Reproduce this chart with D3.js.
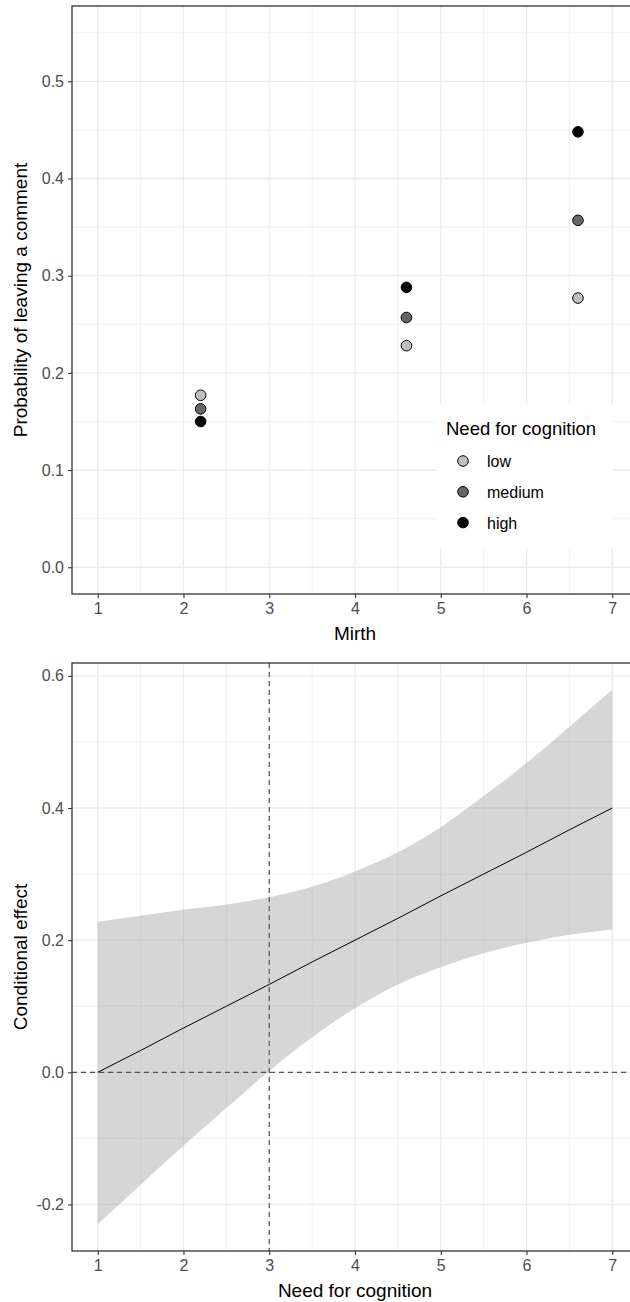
<!DOCTYPE html>
<html lang="en">
<head>
<meta charset="UTF-8">
<title>Mirth x Need for cognition</title>
<style>
  body { margin: 0; background: #fff; }
  svg { display: block; font-family: "Liberation Sans", Arial, sans-serif; }
  .tick text { fill: #4d4d4d; font-size: 16px; }
  .tick line { stroke: #333; stroke-width: 1.1; }
  .grid-major { stroke: #ebebeb; stroke-width: 1.3; }
  .grid-minor { stroke: #ebebeb; stroke-width: 0.7; }
  .axis-title { font-size: 19px; fill: #000; }
</style>
</head>
<body>
<div id="chart"></div>
<script src="https://d3js.org/d3.v7.min.js"></script>
<script>
  // top panel: predicted probabilities
  const mirthLevels = [2.2, 4.6, 6.6];
  const nfcGroups = ["low", "medium", "high"];
  const probLow = [0.177, 0.228, 0.277];
  const probMedium = [0.163, 0.257, 0.357];
  const probHigh = [0.150, 0.288, 0.448];
  const probLimits = [0, 0.55];

  // bottom panel: conditional effect of mirth over need for cognition
  const nfcValues = [1, 1.5, 2, 2.5, 3, 3.5, 4, 4.5, 5, 5.5, 6, 6.5, 7];
  const effect = [0, 0.033, 0.067, 0.1, 0.133, 0.167, 0.2, 0.233, 0.267, 0.3, 0.333, 0.367, 0.4];
  const effectLower = [-0.230, -0.170, -0.111, -0.054, 0.002, 0.053, 0.097, 0.133, 0.159, 0.180, 0.196, 0.208, 0.216];
  const effectUpper = [0.228, 0.237, 0.246, 0.254, 0.265, 0.281, 0.304, 0.333, 0.371, 0.418, 0.468, 0.523, 0.579];
  const nfcMarker = 3;

  const xTicks = [1, 2, 3, 4, 5, 6, 7];
  const xLimits = [1, 7];

  const width = 630, height = 1302;
  const groupFill = { low: "#bfbfbf", medium: "#666666", high: "#000000" };

  const svg = d3.select("#chart").append("svg")
    .attr("width", width).attr("height", height);

  function expand(lim, m = 0.05) {
    const r = lim[1] - lim[0];
    return [lim[0] - r * m, lim[1] + r * m];
  }

  // plain hyphen for negatives, like R
  const fmt1 = d => d3.format(".1f")(d).replace("\u2212", "-");

  // background grid + axes
  function drawFrame(g, x, y, yMajor, yMinor, xMinor) {
    const [x0, x1] = x.range();
    const [y1, y0] = y.range();
    g.append("rect").attr("x", x0).attr("y", y0)
      .attr("width", x1 - x0).attr("height", y1 - y0).attr("fill", "#fff");

    g.selectAll(".gy-min").data(yMinor).enter().append("line")
      .attr("class", "grid-minor")
      .attr("x1", x0).attr("x2", x1).attr("y1", d => y(d)).attr("y2", d => y(d));
    g.selectAll(".gx-min").data(xMinor).enter().append("line")
      .attr("class", "grid-minor")
      .attr("y1", y0).attr("y2", y1).attr("x1", d => x(d)).attr("x2", d => x(d));
    g.selectAll(".gy-maj").data(yMajor).enter().append("line")
      .attr("class", "grid-major")
      .attr("x1", x0).attr("x2", x1).attr("y1", d => y(d)).attr("y2", d => y(d));
    g.selectAll(".gx-maj").data(xTicks).enter().append("line")
      .attr("class", "grid-major")
      .attr("y1", y0).attr("y2", y1).attr("x1", d => x(d)).attr("x2", d => x(d));

    const ax = g.append("g").attr("transform", `translate(0,${y1})`)
      .call(d3.axisBottom(x).tickValues(xTicks).tickSize(4).tickPadding(5).tickFormat(d3.format("d")));
    ax.select(".domain").remove();
    const ay = g.append("g").attr("transform", `translate(${x0},0)`)
      .call(d3.axisLeft(y).tickValues(yMajor).tickSize(4).tickPadding(4).tickFormat(fmt1));
    ay.select(".domain").remove();
  }

  function drawBorder(g, x, y) {
    const [x0, x1] = x.range();
    const [y1, y0] = y.range();
    g.append("rect").attr("x", x0).attr("y", y0)
      .attr("width", x1 - x0).attr("height", y1 - y0)
      .attr("fill", "none").attr("stroke", "#333").attr("stroke-width", 1.3);
  }

  // ---------- top plot ----------
  const topG = svg.append("g");
  const x1s = d3.scaleLinear().domain(expand(xLimits)).range([72, 638]);
  const y1s = d3.scaleLinear().domain(expand(probLimits)).range([594, 6]);
  drawFrame(topG, x1s, y1s,
    [0, 0.1, 0.2, 0.3, 0.4, 0.5],
    [0.05, 0.15, 0.25, 0.35, 0.45, 0.55],
    [1.5, 2.5, 3.5, 4.5, 5.5, 6.5]);

  const points = [];
  const series = { low: probLow, medium: probMedium, high: probHigh };
  nfcGroups.forEach(gName => {
    mirthLevels.forEach((m, i) => points.push({ group: gName, mirth: m, p: series[gName][i] }));
  });
  topG.selectAll(".pt").data(points).enter().append("circle")
    .attr("cx", d => x1s(d.mirth)).attr("cy", d => y1s(d.p)).attr("r", 5.3)
    .attr("fill", d => groupFill[d.group]).attr("stroke", "#000").attr("stroke-width", 1);

  drawBorder(topG, x1s, y1s);

  // legend
  const leg = topG.append("g").attr("transform", "translate(437,405)");
  leg.append("rect").attr("width", 176).attr("height", 143).attr("fill", "#fff");
  leg.append("text").attr("x", 9).attr("y", 30).style("font-size", "18.5px").text("Need for cognition");
  nfcGroups.forEach((gName, i) => {
    const row = leg.append("g").attr("transform", `translate(0,${56 + i * 30.8})`);
    row.append("circle").attr("cx", 26).attr("cy", 0).attr("r", 5.3)
      .attr("fill", groupFill[gName]).attr("stroke", "#000").attr("stroke-width", 1);
    row.append("text").attr("x", 50).attr("y", 6).style("font-size", "16px").text(gName);
  });

  topG.append("text").attr("class", "axis-title")
    .attr("x", (72 + 638) / 2).attr("y", 640).attr("text-anchor", "middle").text("Mirth");
  topG.append("text").attr("class", "axis-title")
    .attr("transform", `translate(27,${(6 + 594) / 2}) rotate(-90)`)
    .attr("text-anchor", "middle").text("Probability of leaving a comment");

  // ---------- bottom plot ----------
  const botG = svg.append("g");
  const x2s = d3.scaleLinear().domain(expand(xLimits)).range([72, 638]);
  const effLim = [d3.min(effectLower), d3.max(effectUpper)];
  const y2s = d3.scaleLinear().domain(expand(effLim)).range([1251, 663]);
  drawFrame(botG, x2s, y2s,
    [-0.2, 0, 0.2, 0.4, 0.6],
    [-0.1, 0.1, 0.3, 0.5],
    [1.5, 2.5, 3.5, 4.5, 5.5, 6.5]);

  const band = nfcValues.map((v, i) => ({ v, lo: effectLower[i], hi: effectUpper[i], e: effect[i] }));
  botG.append("path").datum(band)
    .attr("d", d3.area().curve(d3.curveMonotoneX)
      .x(d => x2s(d.v)).y0(d => y2s(d.lo)).y1(d => y2s(d.hi)))
    .attr("fill", "#999").attr("fill-opacity", 0.4);

  botG.append("path").datum(band)
    .attr("d", d3.line().x(d => x2s(d.v)).y(d => y2s(d.e)))
    .attr("fill", "none").attr("stroke", "#000").attr("stroke-width", 1);

  botG.append("line")
    .attr("x1", x2s.range()[0]).attr("x2", x2s.range()[1])
    .attr("y1", y2s(0)).attr("y2", y2s(0))
    .attr("stroke", "#555").attr("stroke-width", 1.2).attr("stroke-dasharray", "5,4");
  botG.append("line")
    .attr("x1", x2s(nfcMarker)).attr("x2", x2s(nfcMarker))
    .attr("y1", y2s.range()[1]).attr("y2", y2s.range()[0])
    .attr("stroke", "#555").attr("stroke-width", 1.2).attr("stroke-dasharray", "5,4");

  drawBorder(botG, x2s, y2s);

  botG.append("text").attr("class", "axis-title")
    .attr("x", (72 + 638) / 2).attr("y", 1297).attr("text-anchor", "middle").text("Need for cognition");
  botG.append("text").attr("class", "axis-title")
    .attr("transform", `translate(27,${(663 + 1251) / 2}) rotate(-90)`)
    .attr("text-anchor", "middle").text("Conditional effect");
</script>
</body>
</html>
